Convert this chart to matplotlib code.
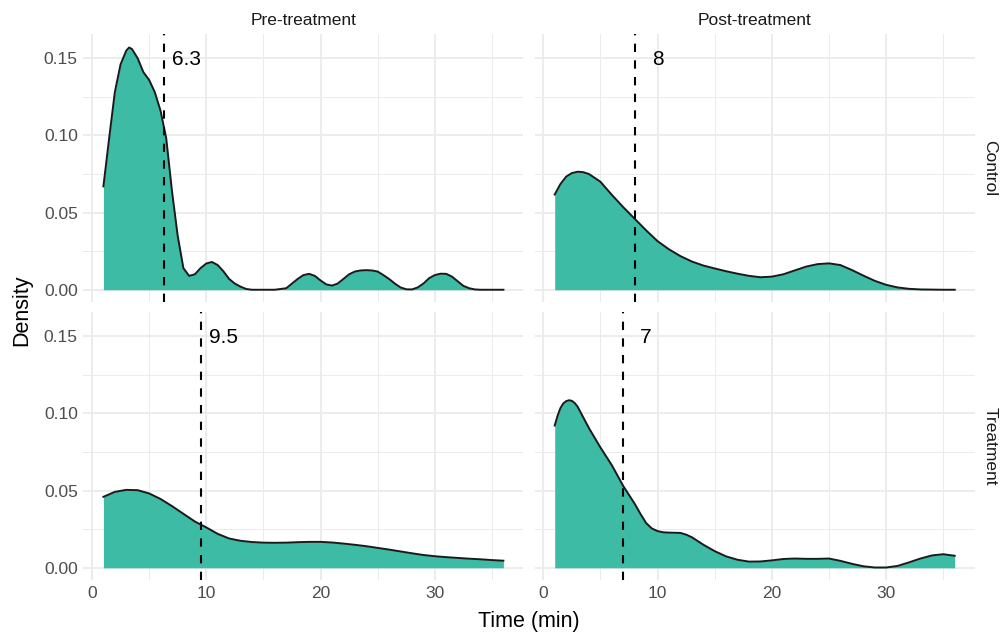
import matplotlib
matplotlib.use('Agg')
import matplotlib.pyplot as plt
from matplotlib.ticker import MultipleLocator

plt.rcParams['font.family'] = ['Liberation Sans', 'DejaVu Sans']

# densidades (Time en min)
x_pre_ctrl = [1.0, 1.5, 2.0, 2.5, 3.0, 3.25, 3.5, 4.0, 4.5, 5.0, 5.5, 6.0, 6.5, 7.0, 7.5, 8.0,
              8.5, 9.0, 9.5, 10.0, 10.5, 11.0, 11.5, 12.0, 12.5, 13.0, 13.5, 14.0, 15.0, 16.0,
              17.0, 17.5, 18.0, 18.5, 19.0, 19.5, 20.0, 20.5, 21.0, 21.5, 22.0, 22.5, 23.0,
              23.5, 24.0, 24.5, 25.0, 25.5, 26.0, 26.5, 27.0, 27.5, 28.0, 28.5, 29.0, 29.5,
              30.0, 30.5, 31.0, 31.5, 32.0, 32.5, 33.0, 33.5, 34.0, 35.0, 36.0]
y_pre_ctrl = [0.067, 0.098, 0.128, 0.146, 0.155, 0.157, 0.156, 0.150, 0.141, 0.136, 0.128,
              0.116, 0.098, 0.064, 0.035, 0.014, 0.009, 0.010, 0.014, 0.017, 0.018, 0.016,
              0.012, 0.007, 0.004, 0.002, 0.0005, 0.0, 0.0, 0.0, 0.001, 0.004, 0.007, 0.0095,
              0.0103, 0.009, 0.006, 0.0035, 0.0027, 0.004, 0.007, 0.010, 0.0118, 0.0125,
              0.0127, 0.0125, 0.0118, 0.0095, 0.007, 0.004, 0.0015, 0.0003, 0.0002, 0.0015,
              0.004, 0.0075, 0.0095, 0.0104, 0.0103, 0.0085, 0.0055, 0.0025, 0.001, 0.0002,
              0.0, 0.0, 0.0]

x_post_ctrl = [1, 1.5, 2, 2.5, 3, 3.5, 4, 5, 6, 7, 8, 9, 10, 11, 12, 13, 14, 15, 16, 17, 18,
               19, 20, 21, 22, 23, 24, 25, 26, 27, 28, 29, 30, 31, 32, 33, 34, 35, 36]
y_post_ctrl = [0.0617, 0.0685, 0.0733, 0.0756, 0.0765, 0.0762, 0.0750, 0.0700, 0.0615,
               0.0535, 0.0460, 0.0385, 0.0315, 0.0262, 0.0218, 0.0183, 0.0157, 0.0138,
               0.0120, 0.0104, 0.0090, 0.0081, 0.0085, 0.0100, 0.0125, 0.0150, 0.0166,
               0.0171, 0.0160, 0.0128, 0.0092, 0.0058, 0.0032, 0.0015, 0.0006, 0.0002,
               0.0001, 0.0, 0.0]

x_pre_trt = list(range(1, 37))
y_pre_trt = [0.0460, 0.0492, 0.0505, 0.0503, 0.0482, 0.0446, 0.0400, 0.0350, 0.0300, 0.0262,
             0.0220, 0.0190, 0.0175, 0.0167, 0.0163, 0.0162, 0.0163, 0.0166, 0.0168, 0.0168,
             0.0164, 0.0157, 0.0149, 0.0140, 0.0129, 0.0118, 0.0106, 0.0094, 0.0083, 0.0075,
             0.0069, 0.0064, 0.0059, 0.0055, 0.0050, 0.0046]

x_post_trt = [1.0, 1.25, 1.5, 1.75, 2.0, 2.25, 2.5, 2.75, 3.0, 3.5, 4.0, 5.0, 6.0, 7.0, 8.0,
              8.5, 9.0, 9.5, 10.0, 10.5, 11.0, 12.0, 12.5, 13.0, 14.0, 15.0, 16.0, 17.0,
              18.0, 19.0, 20.0, 21.0, 22.0, 23.0, 24.0, 25.0, 26.0, 27.0, 28.0, 29.0, 30.0,
              31.0, 32.0, 33.0, 34.0, 35.0, 36.0]
y_post_trt = [0.0922, 0.0985, 0.1035, 0.1065, 0.1080, 0.1086, 0.1082, 0.1068, 0.1045, 0.0975,
              0.0905, 0.0780, 0.0665, 0.0530, 0.0415, 0.0350, 0.0290, 0.0255, 0.0238, 0.0230,
              0.0228, 0.0226, 0.0215, 0.0198, 0.0150, 0.0108, 0.0074, 0.0052, 0.0040,
              0.0041, 0.0048, 0.0057, 0.0060, 0.0058, 0.0058, 0.0060, 0.0045, 0.0026, 0.0010,
              0.0002, 0.0002, 0.0012, 0.0035, 0.0060, 0.0080, 0.0088, 0.0078]

# medianas (linea punteada)
medianas = [6.3, 8, 9.5, 7]
etiquetas = ['6.3', '8', '9.5', '7']
columnas = ['Pre-treatment', 'Post-treatment']
filas = ['Control', 'Treatment']

datos = [(x_pre_ctrl, y_pre_ctrl), (x_post_ctrl, y_post_ctrl),
         (x_pre_trt, y_pre_trt), (x_post_trt, y_post_trt)]

relleno = '#3dbba5'
gris = '#ebebeb'

fig = plt.figure(figsize=(10, 6.37), dpi=100)
posiciones = [(0.0834, 0.526), (0.5347, 0.526), (0.0834, 0.0895), (0.5347, 0.0895)]

for i, (x, y) in enumerate(datos):
    left, bottom = posiciones[i]
    ax = fig.add_axes([left, bottom, 0.440, 0.421])
    ax.fill_between(x, 0, y, color=relleno, linewidth=0, zorder=2)
    ax.plot(x, y, color='#1a1a1a', linewidth=1.4, zorder=3, solid_joinstyle='round')
    ax.axvline(medianas[i], color='black', linestyle=(0, (4, 4)), linewidth=1.5, zorder=4)
    ax.text(medianas[i] + 2, 0.149, etiquetas[i], ha='center', va='center',
            fontsize=15, color='black', zorder=5)

    ax.set_xlim(-0.75, 37.75)
    ax.set_ylim(-0.0079, 0.1659)
    ax.xaxis.set_major_locator(MultipleLocator(10))
    ax.xaxis.set_minor_locator(MultipleLocator(5))
    ax.yaxis.set_major_locator(MultipleLocator(0.05))
    ax.yaxis.set_minor_locator(MultipleLocator(0.025))
    ax.grid(which='major', color=gris, linewidth=1.3, zorder=0)
    ax.grid(which='minor', color=gris, linewidth=0.7, zorder=0)
    ax.set_axisbelow(True)
    for s in ax.spines.values():
        s.set_visible(False)
    ax.tick_params(which='both', length=0, labelsize=12.5, labelcolor='#4d4d4d', pad=4)
    ax.yaxis.set_major_formatter(matplotlib.ticker.FormatStrFormatter('%.2f'))

    if i % 2 == 1:
        ax.tick_params(labelleft=False)
        ax.text(1.035, 0.5, filas[i // 2], transform=ax.transAxes, rotation=-90,
                ha='center', va='center', fontsize=12.5, color='#1a1a1a')
    if i < 2:
        ax.tick_params(labelbottom=False)
        ax.set_title(columnas[i], fontsize=12.5, color='#1a1a1a', pad=6)

fig.text(0.022, 0.513, 'Density', rotation=90, ha='center', va='center', fontsize=15.5)
fig.text(0.529, 0.025, 'Time (min)', ha='center', va='center', fontsize=15.5)

plt.savefig('out.png', dpi=100)
